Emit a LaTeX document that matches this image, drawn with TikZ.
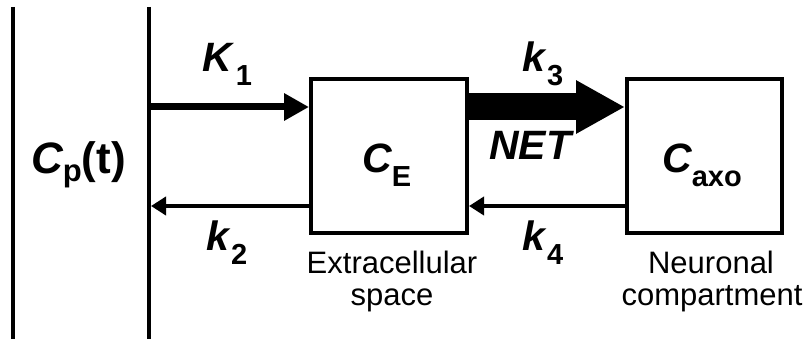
\documentclass[tikz,border=0pt]{standalone}
\usepackage{fontspec}
\setmainfont{Liberation Sans}
\usetikzlibrary{arrows.meta}
\newcommand\mainf{\fontsize{41}{41}\selectfont\bfseries\itshape}
\newcommand\subf{\fontsize{29}{29}\selectfont\bfseries\upshape}
\newcommand\symb[3][0pt]{{\mainf #2}\hspace{#1}\raisebox{-14pt}{\subf #3}}
\tikzset{
  barline/.style={line width=4pt},
  compbox/.style={draw, line width=4pt, inner sep=0pt},
  lbl/.style={anchor=base west, inner sep=0pt},
  captxt/.style={anchor=base, inner sep=0pt, font=\fontsize{31}{31}\selectfont},
  thinarrow/.style={line width=4pt, -{Triangle[length=15pt,width=18pt]}},
  midarrow/.style={line width=7pt, -{Triangle[length=25pt,width=26pt]}},
  fatarrow/.style={line width=27pt, -{Triangle[length=49pt,width=50pt]}}
}
\begin{document}
\begin{tikzpicture}[x=1pt,y=-1pt]
\useasboundingbox (0,0) rectangle (808,339);
% plasma boundaries
\coordinate (l1t) at (13,7);  \coordinate (l1b) at (13,339);
\coordinate (l2t) at (149,7); \coordinate (l2b) at (149,339);
\draw[barline] (l1t) -- (l1b);
\draw[barline] (l2t) -- (l2b);
% compartments
\node[compbox, minimum width=156pt, minimum height=154pt] (ce) at (389,156) {};
\node[compbox, minimum width=155pt, minimum height=154pt] (caxo) at (704.5,156) {};
% connectors
\coordinate (k1s) at (151,107);
\coordinate (k2e) at (151,206);
\draw[midarrow] (k1s) -- (ce.west |- k1s);
\draw[thinarrow] (ce.west |- k2e) -- (k2e);
\draw[fatarrow] (ce.east |- k1s) -- (caxo.west |- k1s);
\draw[thinarrow] (caxo.west |- k2e) -- (ce.east |- k2e);
% labels
\node[lbl] (cp) at (31,174) {{\fontsize{44}{44}\selectfont\bfseries\itshape C}\raisebox{-8pt}{\fontsize{31}{31}\selectfont\bfseries p}{\fontsize{44}{44}\selectfont\bfseries(t)}};
\node[lbl] (K1) at (202,72) {\symb[4pt]{K}{1}};
\node[lbl] (k2) at (206,250) {\symb[2pt]{k}{2}};
\node[lbl] (k3) at (522,72) {\symb[2pt]{k}{3}};
\node[lbl] (net) at (489,160) {\mainf NET};
\node[lbl] (k4) at (522,250) {\symb[2pt]{k}{4}};
\node[lbl] (celab) at (362,173) {\symb{C}{E}};
\node[lbl] (caxolab) at (662,173) {\symb{C}{axo}};
\node[captxt] (ext1) at (392,273) {Extracellular};
\node[captxt] (ext2) at (392,305) {space};
\node[captxt] (neu1) at (711,273) {Neuronal};
\node[captxt] (neu2) at (712,305) {compartment};
\end{tikzpicture}
\end{document}
